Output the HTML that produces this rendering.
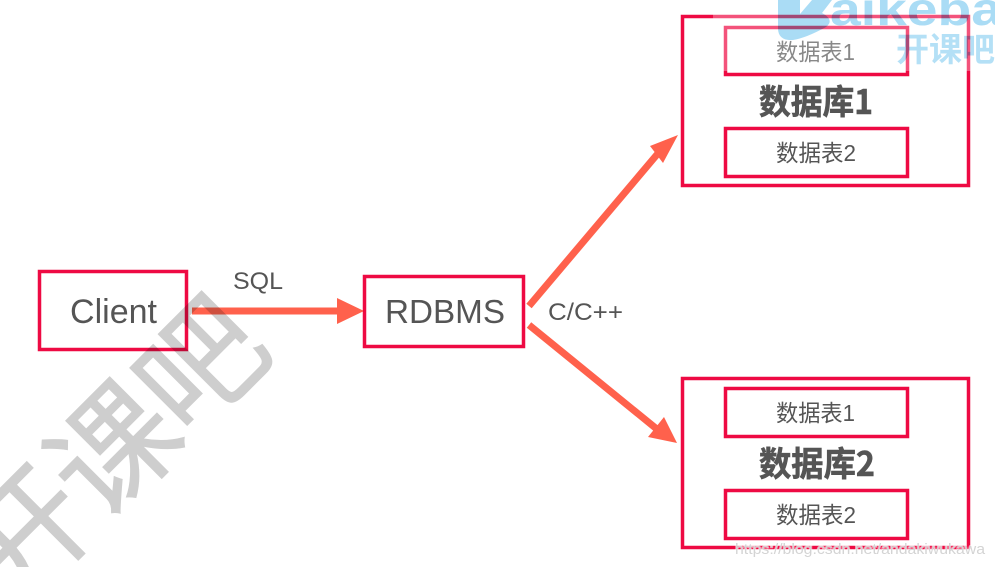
<!DOCTYPE html>
<html>
<head>
<meta charset="utf-8">
<style>
html,body{margin:0;padding:0;background:#fff;width:995px;height:567px;overflow:hidden}
svg{display:block;overflow:hidden}
text{font-family:"Liberation Sans","Noto Sans CJK SC",sans-serif;fill:#555}
.cjk{font-family:"Noto Sans CJK SC","WenQuanYi Zen Hei",sans-serif}
.t{font-size:23px}
.b{font-size:34px;font-weight:700;stroke:#555;stroke-width:.6}
.box{fill:none;stroke:#ee0a43;stroke-width:3.5}
.ar{stroke:#ff614c;stroke-width:7;fill:none}
.hd{fill:#ff614c}
.wm{fill:#cecece;stroke:#cecece;stroke-width:1}
</style>
</head>
<body>
<svg width="995" height="567" viewBox="0 0 995 567" xmlns="http://www.w3.org/2000/svg">
  <defs><clipPath id="frame"><rect width="995" height="567"/></clipPath></defs>
  <rect width="995" height="567" fill="#fff"/>

  <!-- gray diagonal watermark -->
  <g clip-path="url(#frame)" style="mix-blend-mode:multiply">
    <text class="cjk wm" transform="translate(27 535) rotate(-45)" x="0" y="44" text-anchor="middle" font-size="124" style="fill:#cecece">开</text>
    <text class="cjk wm" transform="translate(114 450) rotate(-45)" x="0" y="44" text-anchor="middle" font-size="124" style="fill:#cecece">课</text>
    <text class="cjk wm" transform="translate(201 365) rotate(-45)" x="0" y="44" text-anchor="middle" font-size="124" style="fill:#cecece">吧</text>
  </g>

  <!-- boxes -->
  <g style="mix-blend-mode:multiply">
    <rect class="box" x="39.5" y="271.5" width="147" height="78"/>
    <rect class="box" x="364.5" y="276.5" width="159" height="70"/>
    <rect class="box" x="682.5" y="16.5" width="286" height="169"/>
    <rect class="box" x="725.5" y="27.5" width="182" height="47"/>
    <rect class="box" x="725.5" y="128.5" width="182" height="48"/>
    <rect class="box" x="682.5" y="378.5" width="286" height="169"/>
    <rect class="box" x="725.5" y="388.5" width="182" height="48"/>
    <rect class="box" x="725.5" y="490.5" width="182" height="48"/>
  </g>

  <!-- labels -->
  <text x="70" y="323" font-size="34" textLength="87" lengthAdjust="spacingAndGlyphs">Client</text>
  <text x="385" y="323" font-size="33" textLength="120" lengthAdjust="spacingAndGlyphs">RDBMS</text>
  <text x="233" y="289" font-size="24" textLength="50" lengthAdjust="spacingAndGlyphs">SQL</text>
  <text x="548" y="320" font-size="24" textLength="75" lengthAdjust="spacingAndGlyphs">C/C++</text>

  <text class="t" x="776" y="60" textLength="79" lengthAdjust="spacingAndGlyphs">数据表1</text>
  <text class="t" x="776" y="161" textLength="80" lengthAdjust="spacingAndGlyphs">数据表2</text>
  <text class="t" x="776" y="421" textLength="79" lengthAdjust="spacingAndGlyphs">数据表1</text>
  <text class="t" x="776" y="523" textLength="80" lengthAdjust="spacingAndGlyphs">数据表2</text>
  <text class="cjk b" x="759" y="114" textLength="114" lengthAdjust="spacingAndGlyphs">数据库1</text>
  <text class="cjk b" x="759" y="476" textLength="116" lengthAdjust="spacingAndGlyphs">数据库2</text>

  <!-- arrows -->
  <g style="mix-blend-mode:multiply">
    <line class="ar" x1="192" y1="311" x2="340" y2="311"/>
    <polygon class="hd" points="337,298 364,311 337,324"/>
    <line class="ar" x1="529" y1="306" x2="660" y2="151"/>
    <polygon class="hd" points="650,146 678,135 663,163"/>
    <line class="ar" x1="529" y1="325" x2="658" y2="430"/>
    <polygon class="hd" points="664,417 677,443 648,437"/>
  </g>

  <!-- top right whitewash + logo watermark -->
  <rect x="713" y="0" width="282" height="71" fill="#fff" opacity="0.3"/>
  <g clip-path="url(#frame)" style="mix-blend-mode:multiply">
    <path d="M778 0H800V14L812 0H832L822 13Q835 20 826 27Q806 38 793 40Q778 41 778 28Z" fill="#aadcf5"/>
    <text x="830" y="25" font-size="46" font-weight="700" style="fill:#aadcf5" textLength="172" lengthAdjust="spacingAndGlyphs">aikeba</text>
    <text class="cjk" x="896" y="61" font-size="33" font-weight="700" style="fill:#b4e0f6">开课吧</text>
  </g>

  <!-- bottom right url watermark -->
  <text x="735" y="554" font-size="14.5" textLength="250" lengthAdjust="spacingAndGlyphs" style="fill:#d4d4d4;stroke:#fff;stroke-width:1.5;paint-order:stroke;stroke-opacity:.55">https://blog.csdn.net/andakiwukawa</text>
</svg>
</body>
</html>
